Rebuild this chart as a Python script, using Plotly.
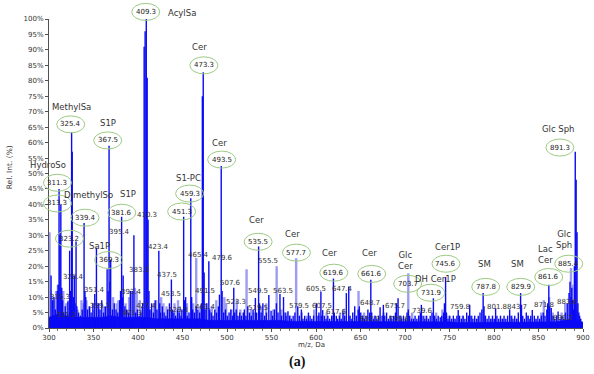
import plotly.graph_objects as go

# ---------------- data ----------------
blue_mz = [302.3,304.2,305.6,307.2,309.3,310.3,311.3,312.3,313.3,314.3,315.3,316.4,318.2,319.3,321.2,323.2,324.3,325.4,326.1,327.3,
           328.4,329.3,330.4,331.3,333.3,335.2,337.3,339.4,340.4,341.3,343.3,345.3,347.3,349.3,351.4,353.3,355.3,357.3,359.3,361.3,
           363.3,365.3,366.4,367.5,368.5,369.3,371.3,373.3,375.3,377.3,379.4,380.4,381.6,382.6,383.3,385.3,387.3,389.3,391.4,393.4,
           395.4,397.3,399.3,401.3,403.3,405.3,406.9,408.0,409.3,410.3,411.3,412.3,413.3,415.3,417.3,419.3,421.3,423.4,424.4,425.3,
           427.4,429.3,431.3,433.3,435.3,437.5,438.5,440.3,442.3,444.3,446.3,448.3,449.3,451.3,452.3,453.5,455.3,457.3,459.3,460.3,
           461.4,463.3,465.4,467.3,469.3,471.3,472.3,473.3,474.3,475.3,477.3,479.6,480.6,482.3,484.3,486.3,488.3,490.3,491.5,493.5,
           494.5,496.3,498.3,500.3,502.3,504.3,506.3,507.6,508.6,510.3,512.3,514.3,516.3,518.3,519.5,521.3,523.3,525.3,527.3,529.3,
           531.9,533.3,535.5,536.5,538.3,540.3,542.3,544.3,547.0,549.5,551.3,553.3,555.5,557.3,559.5,561.3,563.5,565.3,566.3,568.5,
           570.3,572.3,574.3,576.3,579.5,581.3,583.6,585.3,587.3,589.3,591.5,593.3,595.3,597.3,600.4,602.3,603.3,605.5,606.5,607.5,
           609.3,611.3,613.3,615.3,617.6,619.6,620.6,622.8,624.3,626.3,628.3,630.3,632.3,634.1,636.8,638.3,640.3,641.3,643.5,645.3,
           647.4,648.7,650.3,652.3,654.3,656.3,658.3,660.3,661.6,662.6,664.3,666.3,668.3,670.3,672.0,674.3,675.7,677.3,679.3,681.3,
           683.3,685.3,687.3,689.3,690.3,692.2,694.3,696.3,698.3,700.3,702.3,703.7,705.3,707.3,709.6,711.3,713.3,715.3,717.3,718.4,
           720.3,722.3,724.3,726.3,728.3,730.3,731.9,733.3,735.3,737.3,739.6,741.3,743.3,744.3,745.6,746.6,748.3,750.3,752.3,754.3,
           756.3,758.3,759.8,761.3,763.3,765.3,767.3,769.3,771.3,772.7,774.3,776.3,778.3,780.3,782.3,784.3,786.3,787.8,788.8,790.3,
           792.3,794.3,796.3,798.3,800.3,801.8,803.3,805.3,807.3,809.3,811.3,813.3,815.3,817.6,819.3,821.3,823.3,825.3,827.3,829.9,
           830.9,832.3,834.3,836.3,838.3,840.3,841.3,843.0,845.3,847.3,849.3,851.3,853.3,855.3,857.3,859.3,860.3,861.6,862.6,864.3,
           866.3,868.3,870.3,872.0,874.3,876.3,878.3,880.3,882.3,884.3,885.4,886.4,887.4,888.4,889.4,890.3,891.3,892.3,893.3,894.3,
           895.3,896.2,897.3,898.3,899.3]
blue_int = [17,9,10,6,12,14,45,30,40,13,9,5,7,4,8.6,25,12,63.4,57,10,
            17,8,28,7,5,4,6,34,12,10,6,7,5,8,11,26,8,6,9,5,
            7,19,12,59,15,22,6,8,6,5,9,12,36,10,17,7,6,5,12,12,
            30,5,6,4,5,8,91,96,100,81,35,12,6,8,5,9,6,25,8,5,
            7,5,4,6,8,15.7,6,5,4,6,5,4,6,36,9,10,4,5,42,10,
            6,5,7,6,5,8,75,82.8,18,6,8,21.6,6,5,4,6,5,7,10.8,52.4,
            12,5,6,4,5,6,4,13,5,6,4,5,4,5,6,4,7,5,4,6,
            9.7,5,26.4,8,5,8,4,5,10.7,5.6,4,6,8,5,11,4,10,5,4,5.4,
            4,3,4,5,7,4,6,3,4,3,5,4,3,4,8,4,5,11.8,4,5.8,
            4,3,4,3,4,16,5,4,3,4,3,5,4,11.3,13.4,4,3,5,7,4,
            6,7,5,4,3,4,6,5,15.6,5,3,4,3,4,6.7,4,7.5,4,5,3,
            4,3,4,5,8,9.6,4,3,4,3,5,6,4,3,3,4,3,4,5,7.5,
            4,3,4,3,4,5,9.6,4,3,4,3.5,4,5,8,16.5,5,3,4,3,4,
            3,4,5.8,4,3,4,3,5,4,7.5,4,3,4,3,4,5,6,11.3,7,4,
            3,4,3,4,3,6.4,4,3,4,3,4,3,4,6,4,3,4,3,5,11.3,
            7.5,4,3,5,4,3,4,5.8,4,3,4,3,4,5,4,6,8,14,7,6.5,
            4,3,4,5.3,3,4,3,5,8,11.3,15,10,13,9,6,20,57,48,31,8,
            5,4,3,2,2]

light_mz = [300.6,301.5,303.5,306.5,308.0,310.0,312.8,316.0,319.0,322.0,327.0,332.0,336.5,338.0,342.0,346.0,350.0,356.0,362.0,372.0,
            376.0,378.0,386.0,390.0,396.5,398.5,402.0,404.0,414.0,418.0,420.5,426.0,428.5,432.0,436.0,441.0,445.0,447.0,455.0,462.0,
            465.4,470.0,476.0,483.0,488.0,497.0,499.0,505.0,511.0,515.0,522.0,527.0,530.0,539.0,544.0,552.0,555.8,561.0,567.0,571.0,
            577.7,584.0,590.0,598.0,604.0,612.0,619.0,627.0,631.0,637.0,647.8,654.0,666.0,676.0,684.0,695.0,703.7,708.0,716.0,722.0,
            735.0,742.0,749.0,755.0,765.0,775.0,782.0,790.0,798.0,810.0,820.0,826.0,838.0,846.0,853.0,856.0,862.0,866.0,876.0,880.0,
            886.5,888.0,890.0,893.0,897.0]
light_int = [31,12,10,9,12,14,10,12,8,9,7,6,9,8,9,7,6,8,7,10,
             8,9,8,10,13,12,9,7,6,8,9,10,8,7,6,8,9,7,8,8,
             22.7,7,8,7,9,10,8,6,9,6,19,6,5,7,8,6,20,6,5,4,
             22.6,5,4,6,4,5,4,5,6,4,12,5,4,5,4,4,17.7,5,4,4,
             5,6,4,3,4,4,3,4,3,3,4,3,4,3,5,9,10,5,5,8,
             19.4,14,8,6,3]

floor_mz = [300,310,320,330,340,350,360,370,380,390,400,410,420,430,440,450,460,470,480,490,
            500,510,520,530,540,550,560,570,580,590,600,610,620,630,640,650,660,670,680,690,
            700,710,720,730,740,750,760,770,780,790,800,810,820,830,840,850,860,870,880,890,900]
floor_int = [3.5,4.5,4,3.5,3.5,3.5,3.5,4,3.5,3.5,3.5,3.5,3,3,3,3,3,3,2.5,2.5,
             2.5,2.5,2.5,2.5,2.5,2.5,2.5,2.2,2.2,2.2,2.2,2.2,2.2,2.2,2.2,2.2,2.2,2,2,2,
             2,2,2,2,2,2,1.8,1.8,1.8,1.8,1.8,1.8,1.8,1.8,1.8,1.8,2,2,2.5,3,1.8]

# circled peak labels: text, centre (m/z, %)
circ_text = ["409.3","473.3","325.4","367.5","311.3","313.3","339.4","323.2","381.6","369.3","459.3","451.3","493.5",
             "535.5","577.7","619.6","661.6","703.7","731.9","745.6","787.8","829.9","861.6","885.4","891.3"]
circ_x = [408.7,474,324.4,366,309.5,309.5,340.5,323,381.8,367,458,449,494,535,578,620,662.6,703,729,746,790.7,830,861.5,884,874]
circ_y = [102.3,85,65.9,60.7,47,40.3,35.7,28.9,37.3,22,43.5,37.7,54.5,27.9,24.4,17.9,17.5,14.3,11.4,20.8,13.3,13.3,16.5,20.8,58.4]

# compound names
name_text = ["AcylSa","Cer","MethylSa","S1P","HydroSo","DimethylSo","S1P","Sa1P","S1-PC","Cer","Cer","Cer","Cer","Cer",
             "Glc<br>Cer","DH Cer1P","Cer1P","SM","SM","Lac<br>Cer","Glc<br>Sph","Glc Sph"]
name_x = [449,469.5,325.6,366,298.5,344.7,388.4,357,457,492,533.4,573.8,615.4,660.3,700.8,734.8,747.2,789.5,826.6,858.4,879,873]
name_y = [102,91,71.4,66.2,52.6,42.9,43.5,26.6,48.7,60,35,30.5,24.4,24.4,22,15.9,26.3,20.8,20.8,23.7,28.6,64.3]

# small grey peak values
val_text = ["410.3","395.4","423.4","465.4","479.6","437.5","453.5","491.5","507.6","523.3","519.5","549.5","555.5","563.5",
            "579.5","605.5","647.4","607.5","617.6","648.7","675.7","692.9","709.6","739.6","759.8","801.8","843.7","871.8",
            "883.6","896.2","328.4","315.3","335.2","351.4","359.3","383.3","393.4","401.3","427.4","429.3","461.4"]
val_x = [410.5,379.4,423.4,468.4,495.5,432.2,436.7,474.9,504.1,509.8,534.5,534.5,545.7,562.6,580.6,599.7,630,606.4,623.3,
         660.3,688.4,660.3,694,719.8,761.5,803.1,825.6,855.9,882.8,877.2,327.8,312,318.8,351.3,357,400.8,392.9,392.9,409.8,444.6,476]
val_y = [36.7,31.2,26.3,23.7,22.7,17.2,11,12,14.6,8.4,6.5,12,21.8,12,7.1,12.7,12.7,7.1,5.2,8.1,7.1,2.9,2.9,5.5,6.8,6.8,
         6.8,7.5,8.4,3.2,16.6,10.1,4.2,12.3,7.1,18.8,11.7,4.9,7.1,5.8,6.8]

x_ticks = [300,350,400,450,500,550,600,650,700,750,800,850,900]
y_ticks = [0,5,10,15,20,25,30,35,40,45,50,55,60,65,70,75,80,85,90,95,100]

# ---------------- figure ----------------
XMIN, XMAX, YMAX = 300, 900, 100


def px(m):
    return (m - XMIN) / (XMAX - XMIN)


def py(v):
    return v / YMAX


def sticks(mz, inten):
    xs, ys = [], []
    for m, v in zip(mz, inten):
        xs += [m, m, None]
        ys += [0, v, None]
    return xs, ys


BLUE = "#0A0AF5"
LIGHT = "#9C9CF4"
FONT = "DejaVu Sans"

fig = go.Figure()
lx, ly = sticks(light_mz, light_int)
fig.add_trace(go.Scatter(x=lx, y=ly, mode="lines", line=dict(color=LIGHT, width=2.4),
                         hoverinfo="skip", showlegend=False))
fig.add_trace(go.Scatter(x=floor_mz, y=floor_int, mode="lines", fill="tozeroy",
                         line=dict(color=BLUE, width=0.5), fillcolor=BLUE,
                         hoverinfo="skip", showlegend=False))
bx, by = sticks(blue_mz, blue_int)
fig.add_trace(go.Scatter(x=bx, y=by, mode="lines", line=dict(color=BLUE, width=1.4),
                         hoverinfo="skip", showlegend=False))


def note(x, y, text, size, color="#333333", family=FONT, angle=0):
    return dict(x=x, y=y, xref="paper", yref="paper", text=text, showarrow=False,
                xanchor="center", yanchor="middle", textangle=angle,
                font=dict(family=family, size=size, color=color))


shapes = []
annotations = []
for t, cx, cy in zip(circ_text, circ_x, circ_y):
    shapes.append(dict(type="circle", xref="paper", yref="paper",
                       xsizemode="pixel", ysizemode="pixel",
                       xanchor=px(cx), yanchor=py(cy),
                       x0=-14, x1=14, y0=-8.5, y1=8.5,
                       line=dict(color="#9CCB82", width=1), layer="above"))
    annotations.append(note(px(cx), py(cy), t, 7, "#222222"))
for t, nx, ny in zip(name_text, name_x, name_y):
    annotations.append(note(px(nx), py(ny), t, 8.5))
for t, vx, vy in zip(val_text, val_x, val_y):
    annotations.append(note(px(vx), py(vy), t, 7))
# axis titles and panel tag
annotations.append(note(-0.075, 0.52, "Rel. Int. (%)", 7.5, angle=-90))
annotations.append(note(0.4925, -0.056, "m/z, Da", 7))
annotations.append(note(0.465, -0.11, "<b>(a)</b>", 14, "#111111", "Liberation Serif"))

fig.update_layout(
    width=594, height=374,
    margin=dict(l=49, r=11, t=19, b=46, autoexpand=False),
    paper_bgcolor="white", plot_bgcolor="white",
    shapes=shapes, annotations=annotations,
    showlegend=False,
)
fig.update_xaxes(range=[XMIN, XMAX], tickvals=x_ticks, ticktext=[str(v) for v in x_ticks],
                 showgrid=False, zeroline=False, showline=True, linecolor="#505050", linewidth=1,
                 ticks="outside", ticklen=3, tickcolor="#505050", automargin=False,
                 minor=dict(dtick=10, ticks="outside", ticklen=2, tickcolor="#707070"),
                 tickfont=dict(family=FONT, size=7, color="#333333"))
fig.update_yaxes(range=[0, YMAX], tickvals=y_ticks, ticktext=[f"{v}%" for v in y_ticks],
                 showgrid=False, zeroline=False, showline=True, linecolor="#505050", linewidth=1,
                 ticks="outside", ticklen=3, tickcolor="#505050", automargin=False,
                 tickfont=dict(family=FONT, size=7, color="#333333"))

# remove the browser's default page margin so the figure sits at the window origin
fig.write_html("out.html", config={"displayModeBar": False},
               post_script="document.body.style.margin='0px';")
